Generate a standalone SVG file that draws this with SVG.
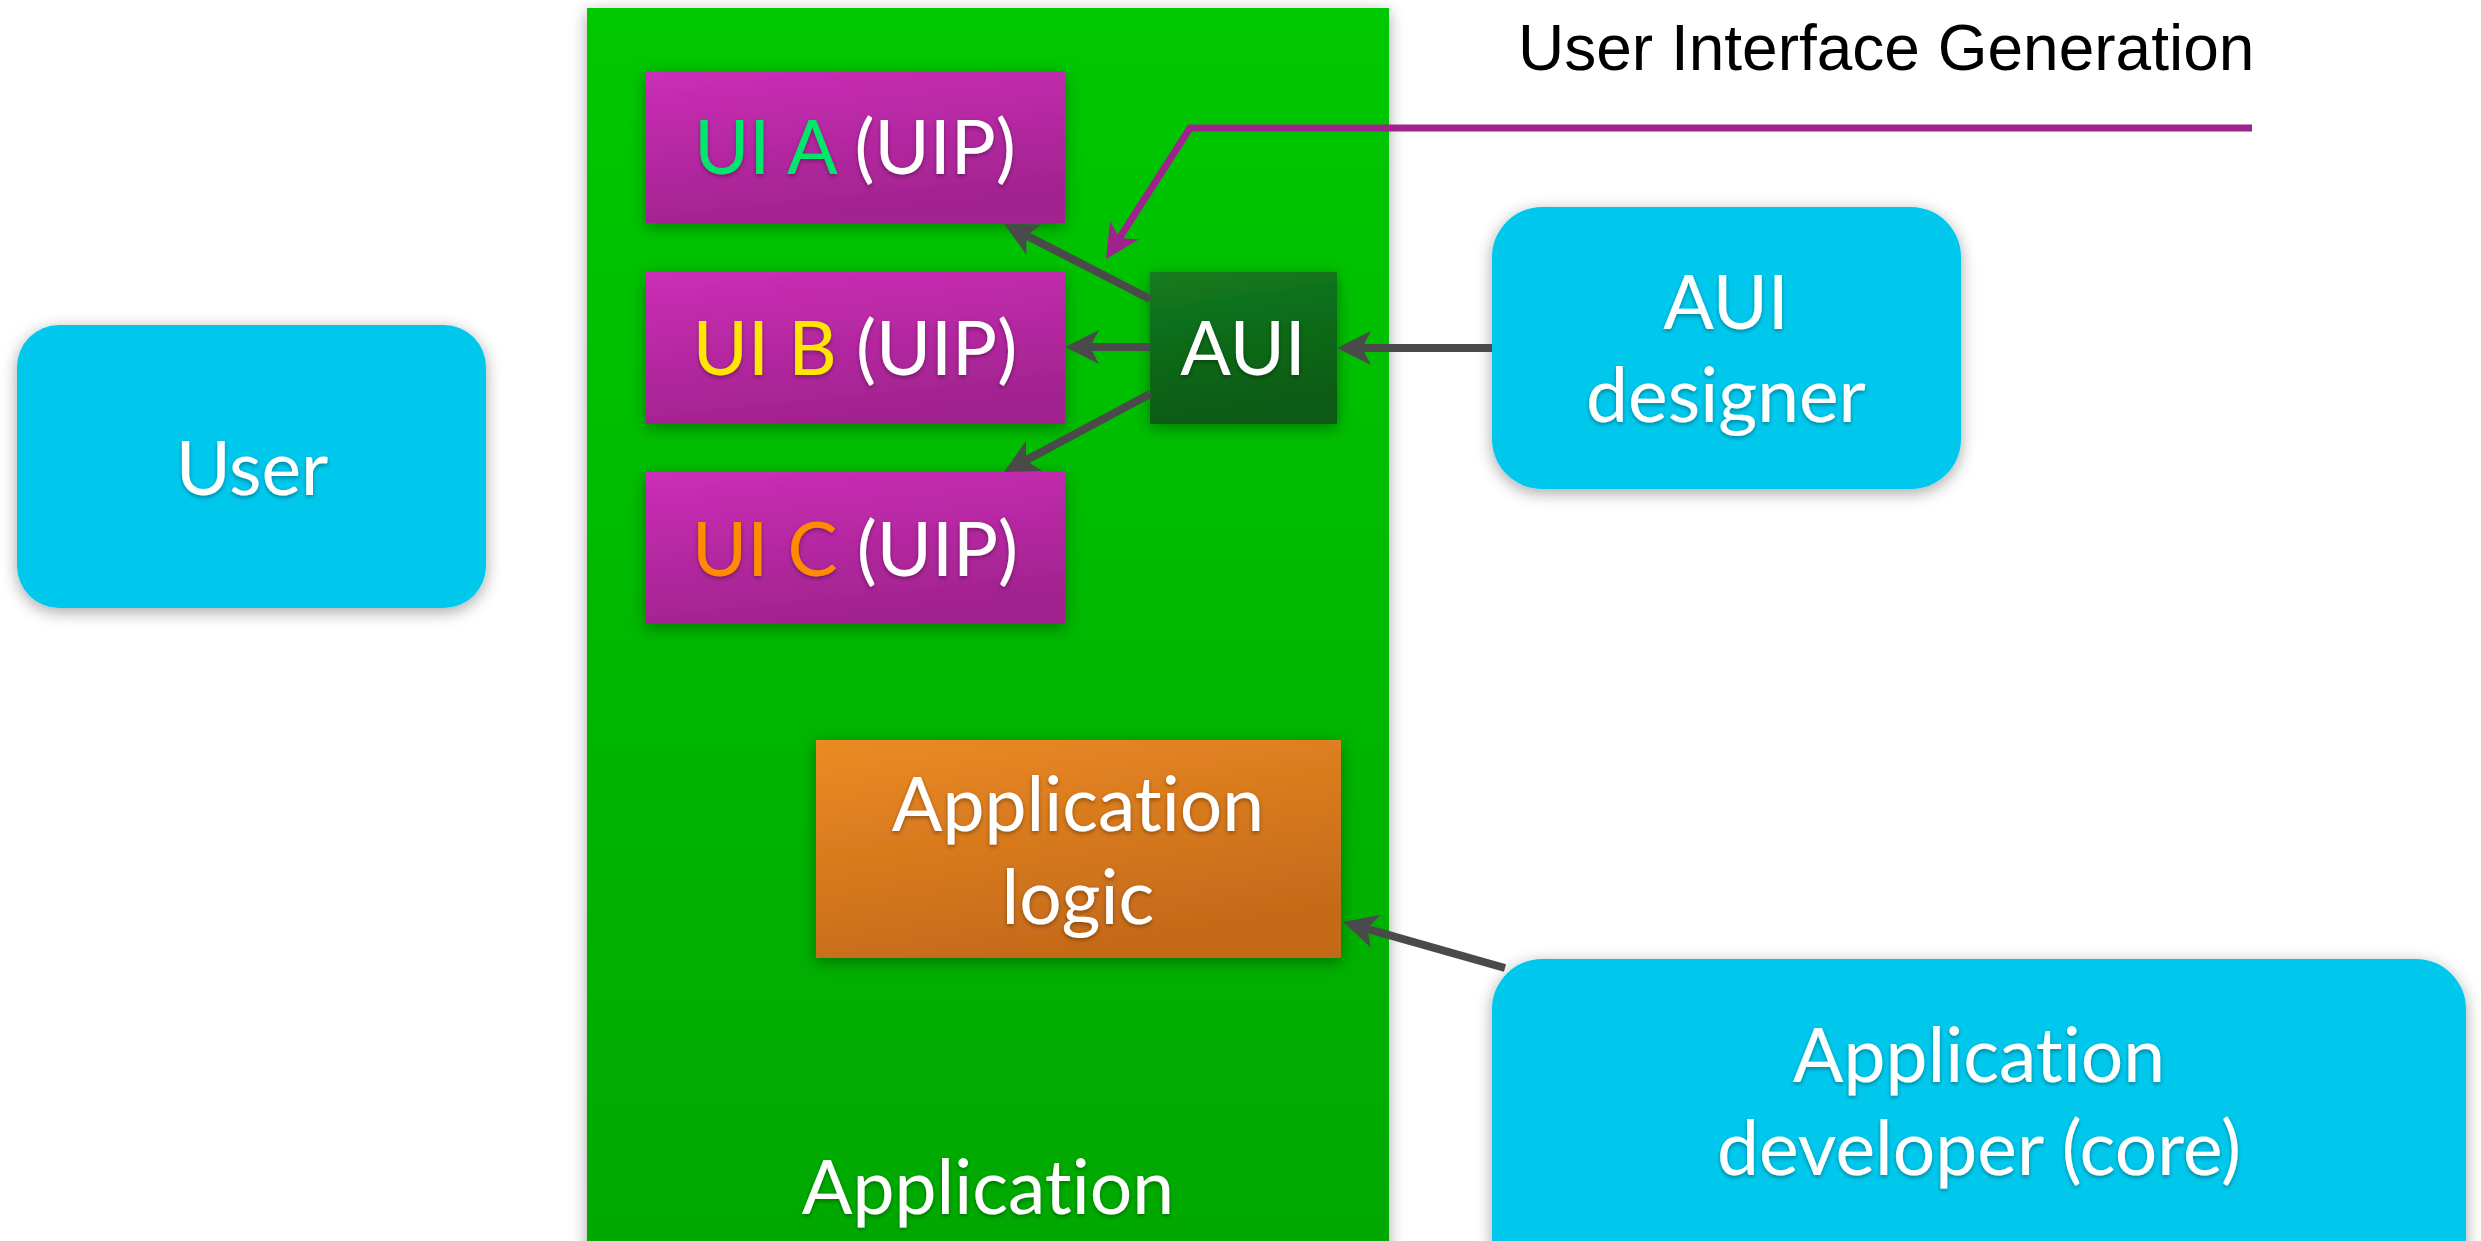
<svg xmlns="http://www.w3.org/2000/svg" width="2481" height="1241" viewBox="0 0 2481 1241">
<style>
.lbl{font-family:Lato,"Open Sans","DejaVu Sans",sans-serif;font-size:75px;fill:#ffffff;text-anchor:middle;filter:url(#ts);font-variant-ligatures:none;font-feature-settings:"liga" 0,"clig" 0}
.title{font-family:"Liberation Sans",Arial,sans-serif;font-size:64px;fill:#000000}
.conn{fill:none;stroke:#4a4a4a;stroke-width:8;marker-end:url(#ah)}
.pconn{fill:none;stroke:#a0228c;stroke-width:7;marker-end:url(#ahp)}
.blue{fill:#00c8ec;filter:url(#ds)}
.purple{fill:url(#gp);filter:url(#ds)}
</style>
<defs>
<linearGradient id="gg" x1="0" y1="0" x2="0" y2="1">
<stop offset="0" stop-color="#00c800"/><stop offset="1" stop-color="#00a800"/>
</linearGradient>
<linearGradient id="gp" x1="0" y1="0" x2="0.3" y2="1">
<stop offset="0" stop-color="#cb2eb7"/><stop offset="1" stop-color="#a2238f"/>
</linearGradient>
<linearGradient id="gd" x1="0" y1="0" x2="0.2" y2="1">
<stop offset="0" stop-color="#147b20"/><stop offset="1" stop-color="#095a12"/>
</linearGradient>
<linearGradient id="go" x1="0" y1="0" x2="0.4" y2="1">
<stop offset="0" stop-color="#ec8a24"/><stop offset="1" stop-color="#c46a19"/>
</linearGradient>
<filter id="ds" x="-20%" y="-20%" width="140%" height="140%">
<feDropShadow dx="0" dy="4" stdDeviation="8" flood-color="#000" flood-opacity="0.35"/>
</filter>
<filter id="ts" x="-10%" y="-20%" width="120%" height="140%">
<feDropShadow dx="0" dy="2" stdDeviation="2" flood-color="#000" flood-opacity="0.35"/>
</filter>
<marker id="ah" markerUnits="userSpaceOnUse" viewBox="0 0 34 34" refX="20" refY="17" markerWidth="34" markerHeight="34" orient="auto">
<path d="M34,17 L0,0 L9,17 L0,34 Z" fill="#4a4a4a"/>
</marker>
<marker id="ahp" markerUnits="userSpaceOnUse" viewBox="0 0 34 34" refX="20" refY="17" markerWidth="34" markerHeight="34" orient="auto">
<path d="M34,17 L0,0 L9,17 L0,34 Z" fill="#a0228c"/>
</marker>
</defs>
<rect width="2481" height="1241" fill="#ffffff"/>

<g id="application">
<rect x="587" y="8" width="802" height="1250" fill="url(#gg)" filter="url(#ds)"/>
<text class="lbl" x="988" y="1214">Application</text>
</g>

<g id="user">
<rect class="blue" x="17" y="325" width="469" height="283" rx="42"/>
<text class="lbl" x="252" y="495">User</text>
</g>

<g id="ui-a">
<rect class="purple" x="646" y="71" width="419" height="152"/>
<text class="lbl" x="855" y="174"><tspan fill="#00e86c">UI A</tspan> (UIP)</text>
</g>

<g id="ui-b">
<rect class="purple" x="646" y="272" width="419" height="152"/>
<text class="lbl" x="855" y="375"><tspan fill="#ffe600">UI B</tspan> (UIP)</text>
</g>

<g id="ui-c">
<rect class="purple" x="646" y="472" width="419" height="152"/>
<text class="lbl" x="855" y="576"><tspan fill="#ff8c00">UI C</tspan> (UIP)</text>
</g>

<g id="aui">
<rect x="1150" y="272" width="187" height="152" fill="url(#gd)" filter="url(#ds)"/>
<text class="lbl" x="1243" y="375">AUI</text>
</g>

<g id="aui-designer">
<rect class="blue" x="1492" y="207" width="469" height="282" rx="50"/>
<text class="lbl" x="1726" y="329">AUI</text>
<text class="lbl" x="1726" y="422">designer</text>
</g>

<g id="app-logic">
<rect x="816" y="740" width="525" height="218" fill="url(#go)" filter="url(#ds)"/>
<text class="lbl" x="1078" y="831">Application</text>
<text class="lbl" x="1078" y="924">logic</text>
</g>

<g id="app-developer">
<rect class="blue" x="1492" y="959" width="974" height="330" rx="50"/>
<text class="lbl" x="1979" y="1082">Application</text>
<text class="lbl" x="1979" y="1175">developer (core)</text>
</g>

<g id="ui-generation-label">
<text class="title" x="1518" y="70">User Interface Generation</text>
</g>

<g id="connectors">
<line class="conn" x1="1150" y1="299" x2="1016.5" y2="230.4"/>
<line class="conn" x1="1150" y1="347" x2="1079" y2="347"/>
<line class="conn" x1="1150" y1="394" x2="1016.3" y2="465.4"/>
<line class="conn" x1="1492" y1="348" x2="1351" y2="348"/>
<line class="conn" x1="1505" y1="968" x2="1356.5" y2="925.8"/>
<polyline class="pconn" points="2252,128 1190,128 1113.6,247.2"/>
</g>
</svg>
